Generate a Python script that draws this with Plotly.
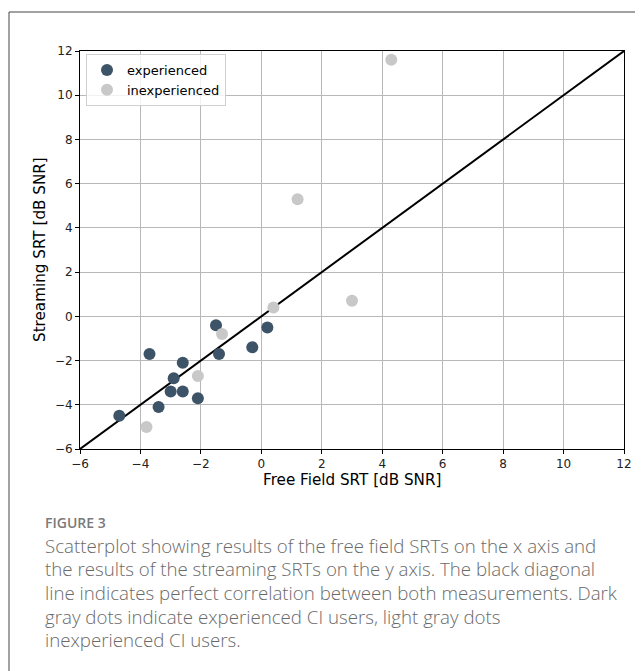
import plotly.graph_objects as go

# ---- data ----
exp_x = [-4.7, -3.7, -3.4, -3.0, -2.9, -2.6, -2.6, -2.1, -1.5, -1.4, -0.3, 0.2]
exp_y = [-4.5, -1.7, -4.1, -3.4, -2.8, -2.1, -3.4, -3.7, -0.4, -1.7, -1.4, -0.5]
inexp_x = [-3.8, -2.1, -1.3, 0.4, 1.2, 3.0, 4.3]
inexp_y = [-5.0, -2.7, -0.8, 0.4, 5.3, 0.7, 11.6]
diag = [-6, 12]
ticks = [-6, -4, -2, 0, 2, 4, 6, 8, 10, 12]

OFF = 8  # page body margin
W, H = 643 - OFF, 671 - OFF
L, R, T, B = 80 - OFF, 624 - OFF, 51 - OFF, 449 - OFF  # plot area in pixels


def px(x):
    return (x - OFF - L) / (R - L)


def py(y):
    return (B - (y - OFF)) / (B - T)


fig = go.Figure()
fig.add_trace(go.Scatter(x=diag, y=diag, mode="lines",
                         line=dict(color="black", width=2), showlegend=False))
fig.add_trace(go.Scatter(x=exp_x, y=exp_y, mode="markers", name="experienced",
                         marker=dict(color="#3d5468", size=12)))
fig.add_trace(go.Scatter(x=inexp_x, y=inexp_y, mode="markers", name="inexperienced",
                         marker=dict(color="#c8c8c8", size=12)))

axis_common = dict(range=[-6, 12], tickvals=ticks, showgrid=True, gridcolor="#b8b8b8",
                   gridwidth=0.8, zeroline=False, showline=True, linecolor="black",
                   linewidth=1, mirror=True, ticks="outside", ticklen=4, tickcolor="black",
                   tickfont=dict(family="DejaVu Sans", size=12, color="#222222"))

fig.update_xaxes(**axis_common)
fig.update_yaxes(**axis_common)

annotations = [
    dict(text="Free Field SRT [dB SNR]", x=px(352), y=py(480), xref="paper", yref="paper",
         xanchor="center", yanchor="middle",
         showarrow=False, font=dict(family="DejaVu Sans", size=15.2, color="black")),
    dict(text="Streaming SRT [dB SNR]", x=px(40), y=py(250), xref="paper", yref="paper",
         xanchor="center", yanchor="middle",
         showarrow=False, textangle=-90, font=dict(family="DejaVu Sans", size=15.2, color="black")),
    dict(text="FIGURE 3", x=px(43), y=py(522), xref="paper", yref="paper",
         xanchor="left", yanchor="middle",
         showarrow=False, font=dict(family="Open Sans", size=14, color="#7a7a7a", weight=600)),
]
caption = [
    "Scatterplot showing results of the free field SRTs on the x axis and",
    "the results of the streaming SRTs on the y axis. The black diagonal",
    "line indicates perfect correlation between both measurements. Dark",
    "gray dots indicate experienced CI users, light gray dots",
    "inexperienced CI users.",
]
for i, line in enumerate(caption):
    annotations.append(dict(text=line, x=px(43), y=py(545 + i * 23.7), xref="paper", yref="paper",
                            xanchor="left", yanchor="middle", showarrow=False,
                            font=dict(family="Open Sans", size=18.7, color="#6a6a6a", weight=300)))

shapes = [
    dict(type="line", xref="paper", yref="paper", x0=px(9), x1=px(660), y0=py(12), y1=py(12),
         line=dict(color="#444444", width=1)),
    dict(type="line", xref="paper", yref="paper", x0=px(9), x1=px(9), y0=py(12), y1=py(700),
         line=dict(color="#444444", width=1)),
]

fig.update_layout(
    width=W, height=H,
    margin=dict(l=L, r=W - R, t=T, b=H - B),
    plot_bgcolor="white", paper_bgcolor="white",
    annotations=annotations, shapes=shapes,
    legend=dict(x=px(86), y=py(54), xanchor="left", yanchor="top",
                bordercolor="#d0d0d0", borderwidth=1, bgcolor="rgba(255,255,255,0.8)",
                font=dict(family="DejaVu Sans", size=13, color="black"),
                itemsizing="constant", tracegroupgap=0),
)

fig.write_html("out.html")
